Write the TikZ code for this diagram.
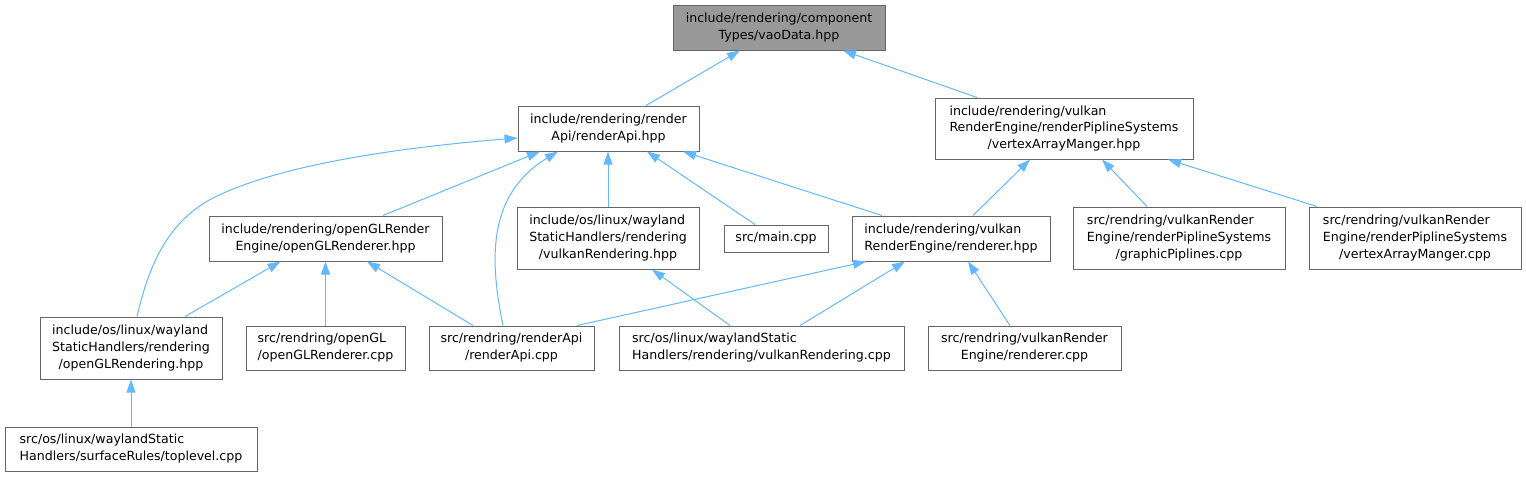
\documentclass[tikz,border=0pt]{standalone}
\usepackage{fontspec}
\setmainfont{DejaVu Sans}
\usetikzlibrary{arrows.meta,calc}
\definecolor{edgeblue}{HTML}{63B8FF}
\definecolor{boxborder}{HTML}{666666}
\definecolor{rootfill}{HTML}{999999}
\newcommand{\lbl}[2]{\begin{tabular}{@{}l@{}}#1\\\multicolumn{1}{@{}c@{}}{#2}\end{tabular}}
\begin{document}
\begin{tikzpicture}[x=1pt,y=-1pt,
  box/.style={draw=boxborder, fill=white, line width=1pt, inner sep=0pt,
    font=\fontsize{12.6}{16.8}\selectfont},
  conn/.style={draw=edgeblue, line width=1pt, -{Triangle[length=13pt,width=9pt]}}]
\useasboundingbox (0,0) rectangle (1526,477);
% nodes
\node[box, fill=rootfill, minimum width=212, minimum height=45] (A) at (779,27.5)
  {\lbl{include/rendering/component}{Types/vaoData.hpp}};
\node[box, minimum width=181, minimum height=45] (B) at (608.5,128.5)
  {\lbl{include/rendering/render}{Api/renderApi.hpp}};
\node[box, minimum width=258, minimum height=61] (C) at (1064,128.5)
  {\lbl{include/rendering/vulkan\\RenderEngine/renderPiplineSystems}{/vertexArrayManger.hpp}};
\node[box, minimum width=233, minimum height=45] (D) at (325.5,238.5)
  {\lbl{include/rendering/openGLRender}{Engine/openGLRenderer.hpp}};
\node[box, minimum width=182, minimum height=62] (E) at (608,238)
  {\lbl{include/os/linux/wayland\\StaticHandlers/rendering}{/vulkanRendering.hpp}};
\node[box, minimum width=104, minimum height=27] (F) at (776,238.5)
  {src/main.cpp};
\node[box, minimum width=198, minimum height=45] (G) at (951,238.5)
  {\lbl{include/rendering/vulkan}{RenderEngine/renderer.hpp}};
\node[box, minimum width=212, minimum height=62] (H) at (1179,238)
  {\lbl{src/rendring/vulkanRender\\Engine/renderPiplineSystems}{/graphicPiplines.cpp}};
\node[box, minimum width=212, minimum height=62] (I) at (1415,238)
  {\lbl{src/rendring/vulkanRender\\Engine/renderPiplineSystems}{/vertexArrayManger.cpp}};
\node[box, minimum width=182, minimum height=62] (J) at (131,348)
  {\lbl{include/os/linux/wayland\\StaticHandlers/rendering}{/openGLRendering.hpp}};
\node[box, minimum width=159, minimum height=44] (K) at (325.5,348)
  {\lbl{src/rendring/openGL}{/openGLRenderer.cpp}};
\node[box, minimum width=165, minimum height=44] (L) at (511.5,348)
  {\lbl{src/rendring/renderApi}{/renderApi.cpp}};
\node[box, minimum width=285, minimum height=44] (M) at (761.5,348)
  {\lbl{src/os/linux/waylandStatic}{Handlers/rendering/vulkanRendering.cpp}};
\node[box, minimum width=193, minimum height=44] (N) at (1024.5,348)
  {\lbl{src/rendring/vulkanRender}{Engine/renderer.cpp}};
\node[box, minimum width=252, minimum height=44] (O) at (131,449)
  {\lbl{src/os/linux/waylandStatic}{Handlers/surfaceRules/toplevel.cpp}};
% connectors
\draw[conn] ($(B.north)+(37.5,0)$) -- ($(A.south)+(-39,0)$);
\draw[conn] ($(C.north)+(-87,0)$) -- ($(A.south)+(64,0)$);
\draw[conn] ($(D.north)+(57.5,0)$) -- ($(B.south)+(-68.5,0)$);
\draw[conn] ($(J.north)+(6,0)$) .. controls (148,270) and (165,222) .. (215,197)
  .. controls (290,160) and (430,145) .. ($(B.west)+(0,9.5)$);
\draw[conn] ($(L.north)+(-8.5,0)$) .. controls (490,262) and (486,195) .. ($(B.south)+(-50.5,0)$);
\draw[conn] ($(E.north)$) -- (E.north |- B.south);
\draw[conn] ($(F.north)+(-21,0)$) -- ($(B.south)+(38.5,0)$);
\draw[conn] ($(G.north)+(-69,0)$) -- ($(B.south)+(74.5,0)$);
\draw[conn] ($(J.north)+(54,0)$) -- ($(D.south)+(-45,0)$);
\draw[conn] (K.north) -- (K.north |- D.south);
\draw[conn] ($(L.north)+(-38.5,0)$) -- ($(D.south)+(41.5,0)$);
\draw[conn] ($(M.north)+(-31.5,0)$) -- ($(E.south)+(44,0)$);
\draw[conn] ($(L.north)+(65.5,0)$) -- ($(G.south)+(-85,0)$);
\draw[conn] ($(M.north)+(38.5,0)$) -- ($(G.south)+(-46,0)$);
\draw[conn] ($(N.north)+(-14.5,0)$) -- ($(G.south)+(17,0)$);
\draw[conn] ($(G.north)+(22,0)$) -- ($(C.south)+(-34,0)$);
\draw[conn] ($(H.north)+(-32,0)$) -- ($(C.south)+(38,0)$);
\draw[conn] ($(I.north)+(-98,0)$) -- ($(C.south)+(104,0)$);
\draw[conn] (O.north) -- (O.north |- J.south);
\end{tikzpicture}
\end{document}
